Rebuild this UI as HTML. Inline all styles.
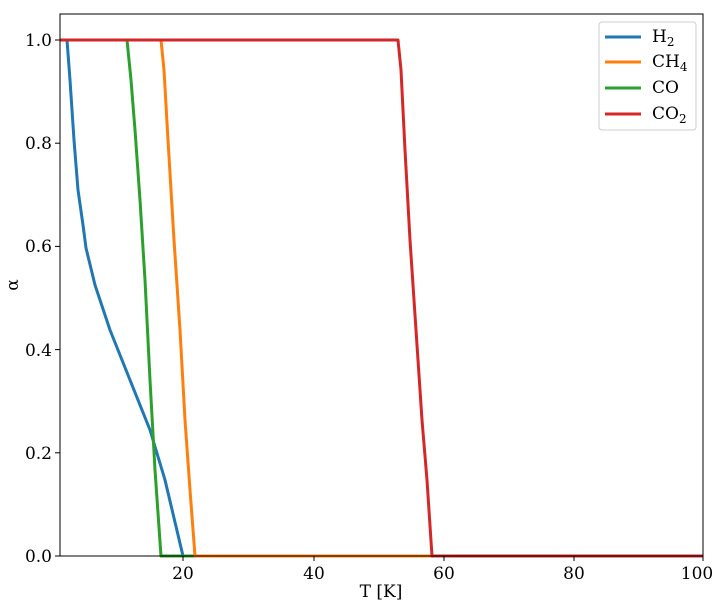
<!DOCTYPE html><html><head><style>body{margin:0;background:#fff}svg{display:block}text{font-family:"DejaVu Serif","Liberation Serif",serif;font-size:17px;fill:#000}</style></head><body>
<svg width="727" height="611" viewBox="0 0 727 611">
<g fill="none" stroke-width="3" stroke-linejoin="round">
<polyline stroke="#1f77b4" points="64,40 67,40 70,80 74,140 78,190 83,225 86,248 95,285 110,330 130,380 150,430 165,480 183,556 703,556"/>
<polyline stroke="#2ca02c" points="127,40 131,80 135,130 140,200 145,280 150,380 155,470 161,556 703,556"/>
<polyline stroke="#ff7f0e" points="161,40 164,70 168,140 174,240 180,330 185,420 190,490 195,556 703,556"/>
<polyline stroke="#d62728" points="60,40 398,40 401,70 405,150 410,240 416,330 422,420 427,480 432,556 703,556"/>
</g>
<rect x="60" y="14" width="643" height="542" fill="none" stroke="#000" stroke-width="1"/>
<g stroke="#000">
<line x1="183" y1="556" x2="183" y2="561"/><line x1="314" y1="556" x2="314" y2="561"/><line x1="444" y1="556" x2="444" y2="561"/><line x1="574" y1="556" x2="574" y2="561"/><line x1="703" y1="556" x2="703" y2="561"/>
<line x1="55" y1="556" x2="60" y2="556"/><line x1="55" y1="452.8" x2="60" y2="452.8"/><line x1="55" y1="349.6" x2="60" y2="349.6"/><line x1="55" y1="246.4" x2="60" y2="246.4"/><line x1="55" y1="143.2" x2="60" y2="143.2"/><line x1="55" y1="40" x2="60" y2="40"/>
</g>
<g text-anchor="middle">
<text x="183" y="579">20</text><text x="314" y="579">40</text><text x="444" y="579">60</text><text x="574" y="579">80</text><text x="697" y="579">100</text>
<text x="381" y="597">T [K]</text>
</g>
<g text-anchor="end">
<text x="52" y="562">0.0</text><text x="52" y="459">0.2</text><text x="52" y="356">0.4</text><text x="52" y="252">0.6</text><text x="52" y="149">0.8</text><text x="52" y="46">1.0</text>
</g>
<text x="18" y="285" transform="rotate(-90 18 285)" text-anchor="middle">α</text>
<rect x="599" y="22" width="97" height="108" rx="3" fill="#fff" stroke="#ccc"/>
<g stroke-width="3">
<line x1="605" y1="37" x2="641" y2="37" stroke="#1f77b4"/>
<line x1="605" y1="62" x2="641" y2="62" stroke="#ff7f0e"/>
<line x1="605" y1="88" x2="641" y2="88" stroke="#2ca02c"/>
<line x1="605" y1="114" x2="641" y2="114" stroke="#d62728"/>
</g>
<text x="652" y="42">H<tspan font-size="12" dy="4">2</tspan></text>
<text x="652" y="67">CH<tspan font-size="12" dy="4">4</tspan></text>
<text x="652" y="93">CO</text>
<text x="652" y="119">CO<tspan font-size="12" dy="4">2</tspan></text>
</svg></body></html>
